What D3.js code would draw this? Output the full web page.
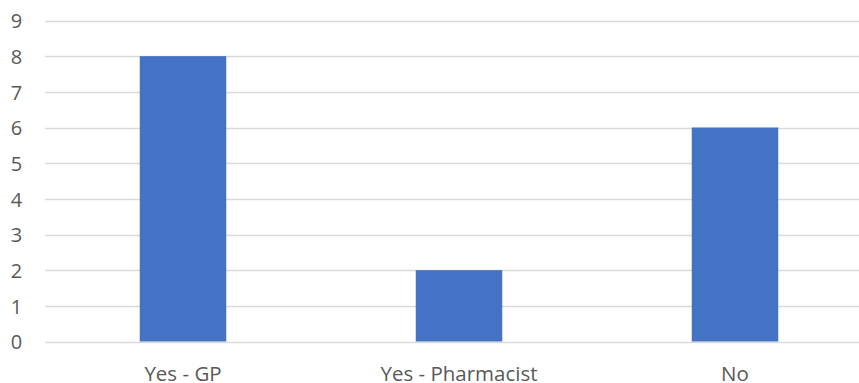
<!DOCTYPE html>
<html><head><meta charset="utf-8">
<script src="https://cdn.jsdelivr.net/npm/d3@7"></script>
<style>html,body{margin:0;padding:0;background:#fff;overflow:hidden}</style>
</head><body>
<svg id="c" width="859" height="383"></svg>
<script>
const categories = ["Yes - GP", "Yes - Pharmacist", "No"];
const values = [8, 2, 6];
const yTicks = [0,1,2,3,4,5,6,7,8,9];

(function(){
const svg = d3.select("#c");
const mLeft = 45, mRight = 873, mTop = 20.5, mBottom = 341.5;
const x = d3.scaleBand().domain(categories).range([mLeft, mRight]).paddingInner(0.6866).paddingOuter(0.3433);
const y = d3.scaleLinear().domain([0, 9]).range([mBottom, mTop]);
const font = "'Open Sans', sans-serif";

svg.append("g").selectAll("line").data(yTicks).join("line")
  .attr("x1", mLeft).attr("x2", 859)
  .attr("y1", d => Math.round(y(d)) + 0.5).attr("y2", d => Math.round(y(d)) + 0.5)
  .attr("stroke", "#d9d9d9").attr("stroke-width", 1.3);

const yAxis = d3.axisLeft(y).tickValues(yTicks).tickSize(0).tickPadding(0);
const ga = svg.append("g").attr("transform", `translate(16.5,0)`).call(yAxis);
ga.select(".domain").remove();
ga.selectAll("text").attr("font-family", font).attr("font-size", 20).attr("fill", "#595959")
  .attr("text-anchor", "middle").attr("x", 0).attr("dy", "0.36em");

svg.append("g").selectAll("rect").data(values).join("rect")
  .attr("x", (d,i) => x(categories[i]))
  .attr("width", x.bandwidth())
  .attr("y", d => y(d))
  .attr("height", d => y(0) - y(d))
  .attr("fill", "#4472c4");

const xAxis = d3.axisBottom(x).tickSize(0).tickPadding(0);
const gx = svg.append("g").attr("transform", `translate(0,${mBottom})`).call(xAxis);
gx.select(".domain").remove();
gx.selectAll("text").attr("font-family", font).attr("font-size", 20.5).attr("fill", "#595959").attr("dy", null).attr("y", 39);
})();
</script>
</body></html>
